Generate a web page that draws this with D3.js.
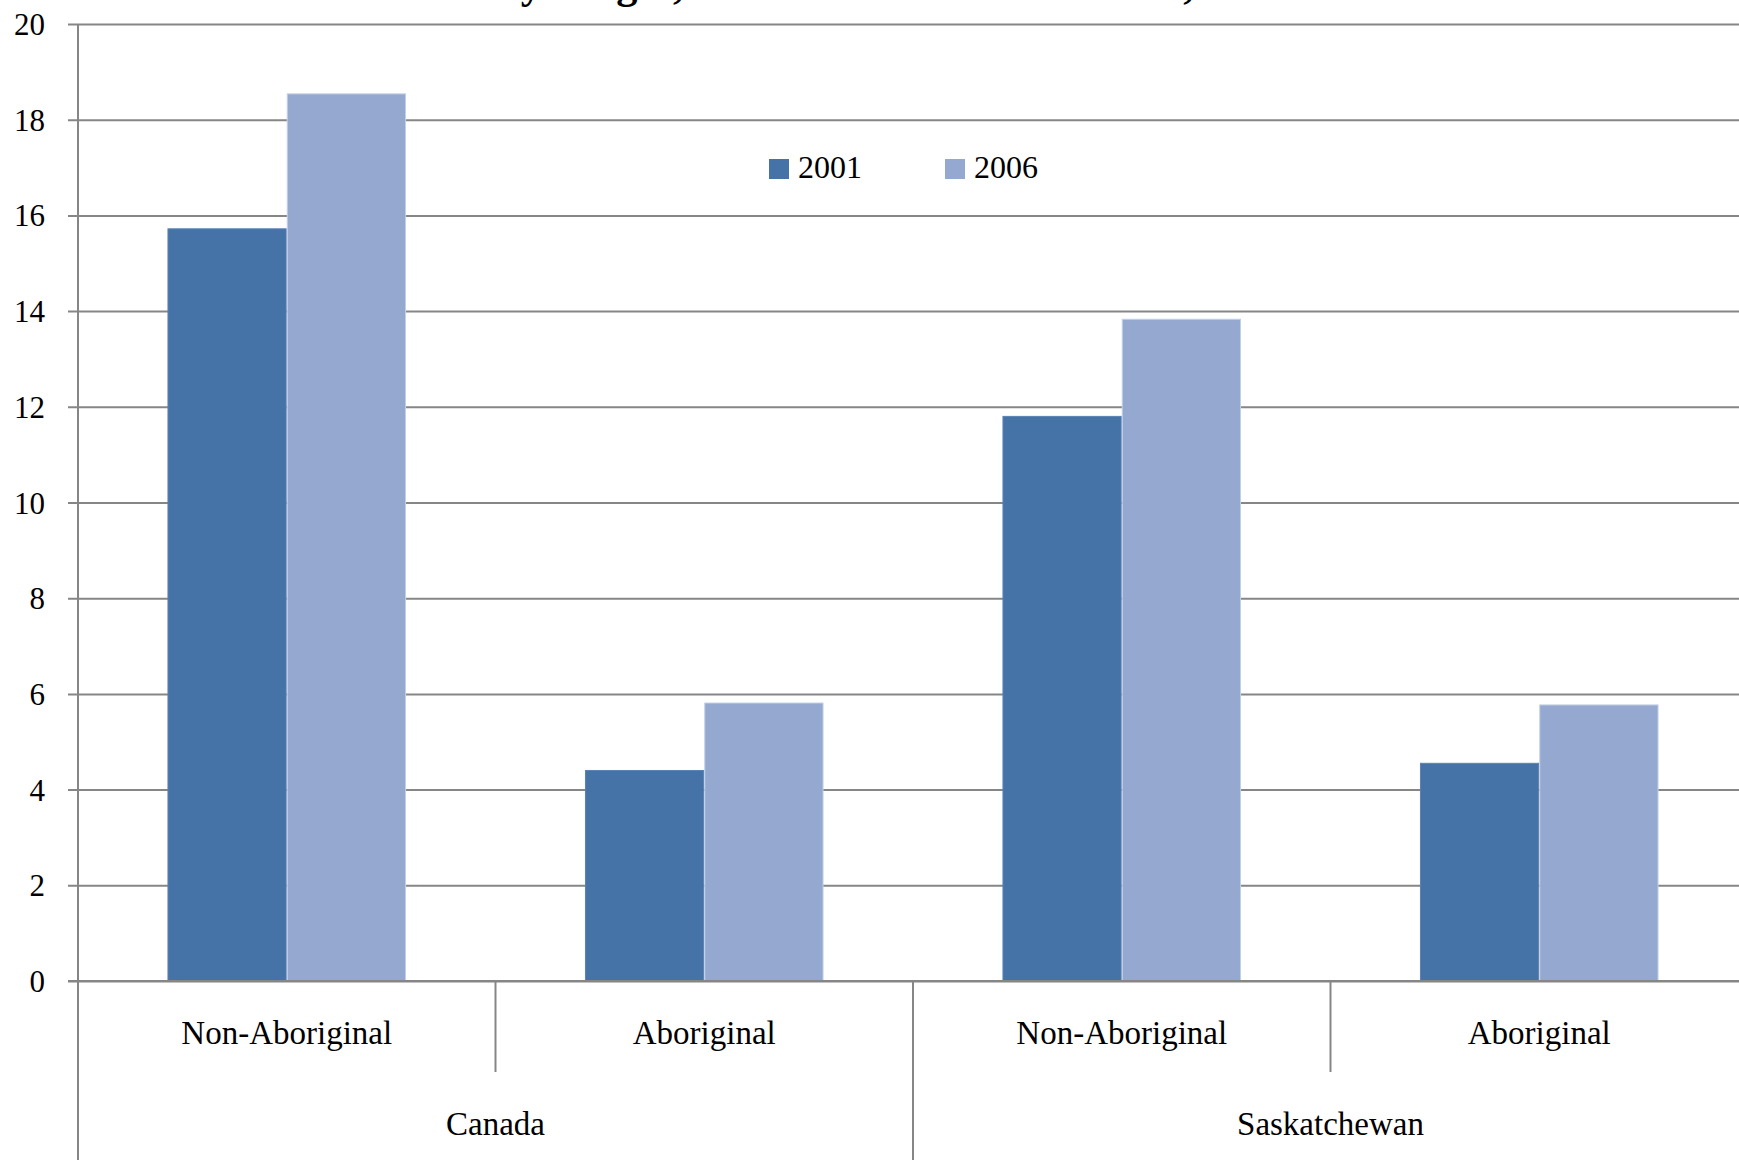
<!DOCTYPE html>
<html>
<head>
<meta charset="utf-8">
<script src="https://cdn.jsdelivr.net/npm/d3@7"></script>
<style>
  html, body { margin: 0; padding: 0; background: #ffffff; overflow: hidden; }
  svg { display: block; }
  text { font-family: "Liberation Serif", "DejaVu Serif", serif; fill: #000; }
</style>
</head>
<body>
<svg id="chart" width="1739" height="1160"></svg>
<script>
// ---- data ----
const titleText = "Educational Attainment by Origin, Canada and Saskatchewan, 2001 and 2006";
const groups = ["Canada", "Saskatchewan"];
const categories = ["Non-Aboriginal", "Aboriginal", "Non-Aboriginal", "Aboriginal"];
const categoryGroup = [0, 0, 1, 1];
const seriesNames = ["2001", "2006"];
const values2001 = [15.73, 4.41, 11.81, 4.56];
const values2006 = [18.55, 5.82, 13.84, 5.78];
const yTicks = [0, 2, 4, 6, 8, 10, 12, 14, 16, 18, 20];
const seriesColors = ["#4573A7", "#95A9D0"];
const seriesEdge = ["#5A82B2", "#C3CFE6"];

// ---- layout ----
const svg = d3.select("#chart");
const W = 1739, H = 1160;
const plotLeft = 78, plotRight = 1748, plotTop = 24, plotBottom = 981;

const x = d3.scaleBand().domain(d3.range(categories.length)).range([plotLeft, plotRight]).paddingInner(0).paddingOuter(0);
const xs = d3.scaleBand().domain(seriesNames).range([0, x.bandwidth()]).paddingInner(0).paddingOuter(0.75);
const y = d3.scaleLinear().domain([0, 20]).range([plotBottom, plotTop]);

const gridColor = "#868686";

// gridlines + y tick marks
const yAxis = d3.axisLeft(y).tickValues(yTicks).tickSize(-(plotRight - plotLeft)).tickSizeOuter(0).tickPadding(0).tickFormat(d => d);
const gy = svg.append("g").attr("transform", `translate(${plotLeft},0)`).call(yAxis);
gy.select(".domain").remove();
gy.selectAll(".tick line").attr("x1", -10).attr("stroke", gridColor).attr("stroke-width", 2);
gy.selectAll(".tick text")
  .attr("x", -33).attr("dy", null).attr("dominant-baseline", "central")
  .attr("text-anchor", "end")
  .style("font-family", "'Liberation Serif', 'DejaVu Serif', serif")
  .style("font-size", "31px").attr("fill", "#000");

// bars
const rows = categories.map((c, i) => ({ i, vals: [values2001[i], values2006[i]] }));
const gBars = svg.append("g");
rows.forEach(r => {
  seriesNames.forEach((s, k) => {
    gBars.append("rect")
      .attr("x", x(r.i) + xs(s) + 0.5)
      .attr("y", y(r.vals[k]) + 0.5)
      .attr("width", xs.bandwidth() - 1)
      .attr("height", y(0) - y(r.vals[k]) - 0.5)
      .attr("fill", seriesColors[k])
      .attr("stroke", seriesEdge[k])
      .attr("stroke-width", 1);
  });
});

// baseline & y axis line
svg.append("line").attr("x1", plotLeft - 10).attr("x2", plotRight).attr("y1", y(0)).attr("y2", y(0))
  .attr("stroke", gridColor).attr("stroke-width", 2);
svg.append("line").attr("x1", plotLeft).attr("x2", plotLeft).attr("y1", plotTop).attr("y2", H)
  .attr("stroke", gridColor).attr("stroke-width", 2);

// category separators
d3.range(1, categories.length + 1).forEach(i => {
  const xx = plotLeft + i * x.step();
  const isGroup = (i % 2 === 0);
  svg.append("line").attr("x1", xx).attr("x2", xx).attr("y1", y(0)).attr("y2", isGroup ? H : 1072)
    .attr("stroke", gridColor).attr("stroke-width", 2);
});

// category labels
svg.append("g").selectAll("text").data(categories).join("text")
  .attr("x", (d, i) => x(i) + x.bandwidth() / 2)
  .attr("y", 1044)
  .attr("text-anchor", "middle")
  .style("font-size", "33px")
  .text(d => d);

// group labels
svg.append("g").selectAll("text").data(groups).join("text")
  .attr("x", (d, gi) => {
    const idx = categoryGroup.map((g, i) => g === gi ? i : -1).filter(i => i >= 0);
    return (x(idx[0]) + x(idx[idx.length - 1]) + x.bandwidth()) / 2;
  })
  .attr("y", 1135)
  .attr("text-anchor", "middle")
  .style("font-size", "33px")
  .text(d => d);

// legend
const legendX = [769, 945];
seriesNames.forEach((s, k) => {
  svg.append("rect").attr("x", legendX[k]).attr("y", 159).attr("width", 20).attr("height", 20)
    .attr("fill", seriesColors[k]);
  svg.append("text").attr("x", legendX[k] + 29).attr("y", 178)
    .style("font-size", "32px").text(s);
});

// title (cropped at the top edge; only descenders visible)
const title = svg.append("text").attr("x", 0).attr("y", -2)
  .style("font-size", "42.5px").style("font-weight", "bold")
  .text(titleText);
const node = title.node();
const commaIdx = titleText.indexOf(",");
const commaX = node.getStartPositionOfChar(commaIdx).x;
title.attr("x", 673 - commaX);
</script>
</body>
</html>
